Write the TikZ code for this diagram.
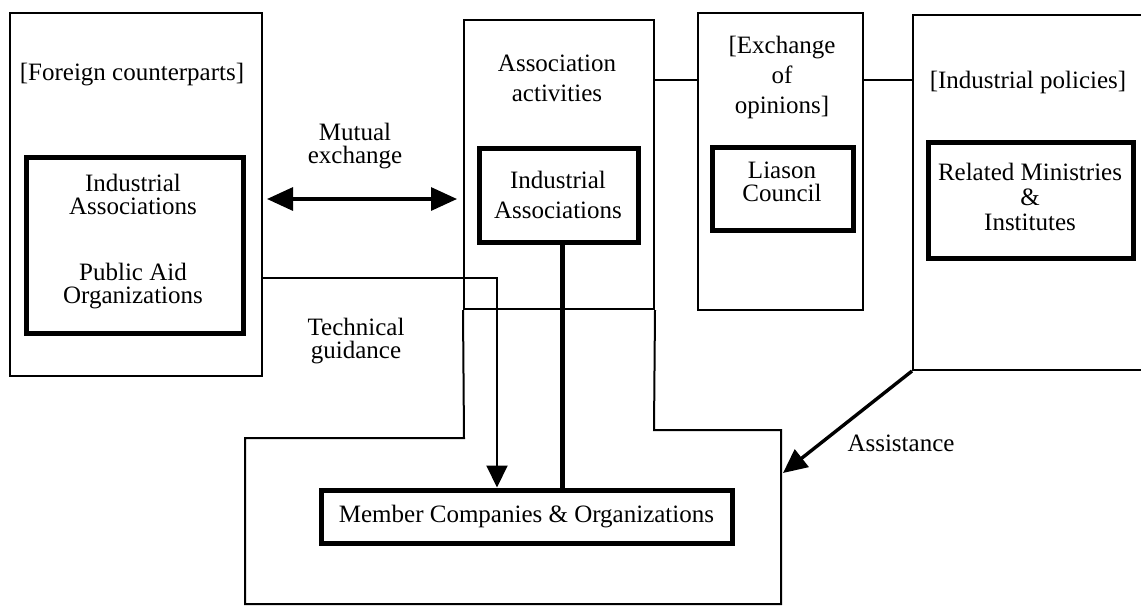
\documentclass[tikz,border=0pt]{standalone}
\usepackage{fontspec}
\setmainfont{Liberation Serif}
\usetikzlibrary{arrows.meta,fit}
\begin{document}
\begin{tikzpicture}[x=0.5pt,y=-0.5pt,
  thinbox/.style={draw, line width=1pt, inner sep=0pt},
  thickbox/.style={draw, line width=2.5pt, inner sep=0pt},
  lbl/.style={font=\fontsize{12.5}{15}\selectfont, align=center, inner sep=0pt},
  thinline/.style={line width=1pt},
  mutualarrow/.style={line width=1.6pt, {Triangle[length=13pt,width=11.5pt]}-{Triangle[length=13pt,width=11.5pt]}},
  guidearrow/.style={line width=1pt, -{Triangle[length=11pt,width=10.5pt]}},
  assistarrow/.style={line width=1.7pt, -{Triangle[length=12pt,width=11pt]}},
  thickline/.style={line width=2.5pt}]
\path[use as bounding box] (0,0) rectangle (1141,606);
\clip (0,0) rectangle (1141,606);

% outer boxes
\node[thinbox, fit={(10,13) (262,376)}] (foreign) {};
\node[thinbox, fit={(464,20) (654,309)}] (assoc) {};
\node[thinbox, fit={(698,13) (863,310)}] (exch) {};
\node[thinbox, fit={(913,15) (1150,370)}] (policy) {};

% member region
\draw[thinline] (assoc.south west) -- (464,438) -- (245,438) -- (245,604)
  -- (781,604) -- (781,430) -- (654,430) -- (assoc.south east);

% inner thick boxes
\node[thickbox, fit={(26,157) (243,333)}] (foreignin) {};
\node[thickbox, fit={(479,148) (638,242)}] (associn) {};
\node[thickbox, fit={(712,147) (853,230)}] (liason) {};
\node[thickbox, fit={(928,142) (1133,258)}] (ministries) {};
\node[thickbox, fit={(321,490) (732,543)}] (member) {};

% labels
\node[lbl] (foreignlbl) at (132,75) {[Foreign counterparts]};
\node[lbl, font=\fontsize{12.5}{11.5}\selectfont] (ia1) at (133,194) {Industrial\\Associations};
\node[lbl, font=\fontsize{12.5}{11.5}\selectfont] (pao) at (133,286) {Public Aid\\Organizations};
\node[lbl, font=\fontsize{12.5}{11.5}\selectfont] (mutual) at (355,146) {Mutual\\exchange};
\node[lbl, font=\fontsize{12.5}{11.5}\selectfont] (tech) at (356,341) {Technical\\guidance};
\node[lbl] (assoclbl) at (557,78) {Association\\activities};
\node[lbl] (ia2) at (558,195) {Industrial\\Associations};
\node[lbl] (exchlbl) at (782,77) {[Exchange\\of\\opinions]};
\node[lbl, font=\fontsize{12.5}{11.5}\selectfont] (liasonlbl) at (782,182) {Liason\\Council};
\node[lbl] (policylbl) at (1028,82) {[Industrial policies]};
\node[lbl, font=\fontsize{12.5}{12.5}\selectfont] (minlbl) at (1030,197) {Related Ministries\\\&\\Institutes};
\node[lbl] (memberlbl) at (member.center) {Member Companies \& Organizations};
\node[lbl] (assist) at (901,443) {Assistance};

% connectors
\coordinate (my) at (0,199);
\coordinate (ty) at (0,278);
\coordinate (tx) at (497,0);
\coordinate (kx) at (562,0);
\coordinate (ly) at (0,80);
\coordinate (asstip) at (783,473);

\draw[mutualarrow] ([xshift=2pt]foreign.east |- my) -- ([xshift=-3pt]assoc.west |- my);
\draw[guidearrow] (foreign.east |- ty) -| (member.north -| tx);
\draw[thickline] (associn.south -| kx) -- (member.north -| kx);
\draw[thinline] (assoc.east |- ly) -- (exch.west |- ly);
\draw[thinline] (exch.east |- ly) -- (policy.west |- ly);
\draw[assistarrow] (policy.south west) -- (asstip);
\end{tikzpicture}
\end{document}
